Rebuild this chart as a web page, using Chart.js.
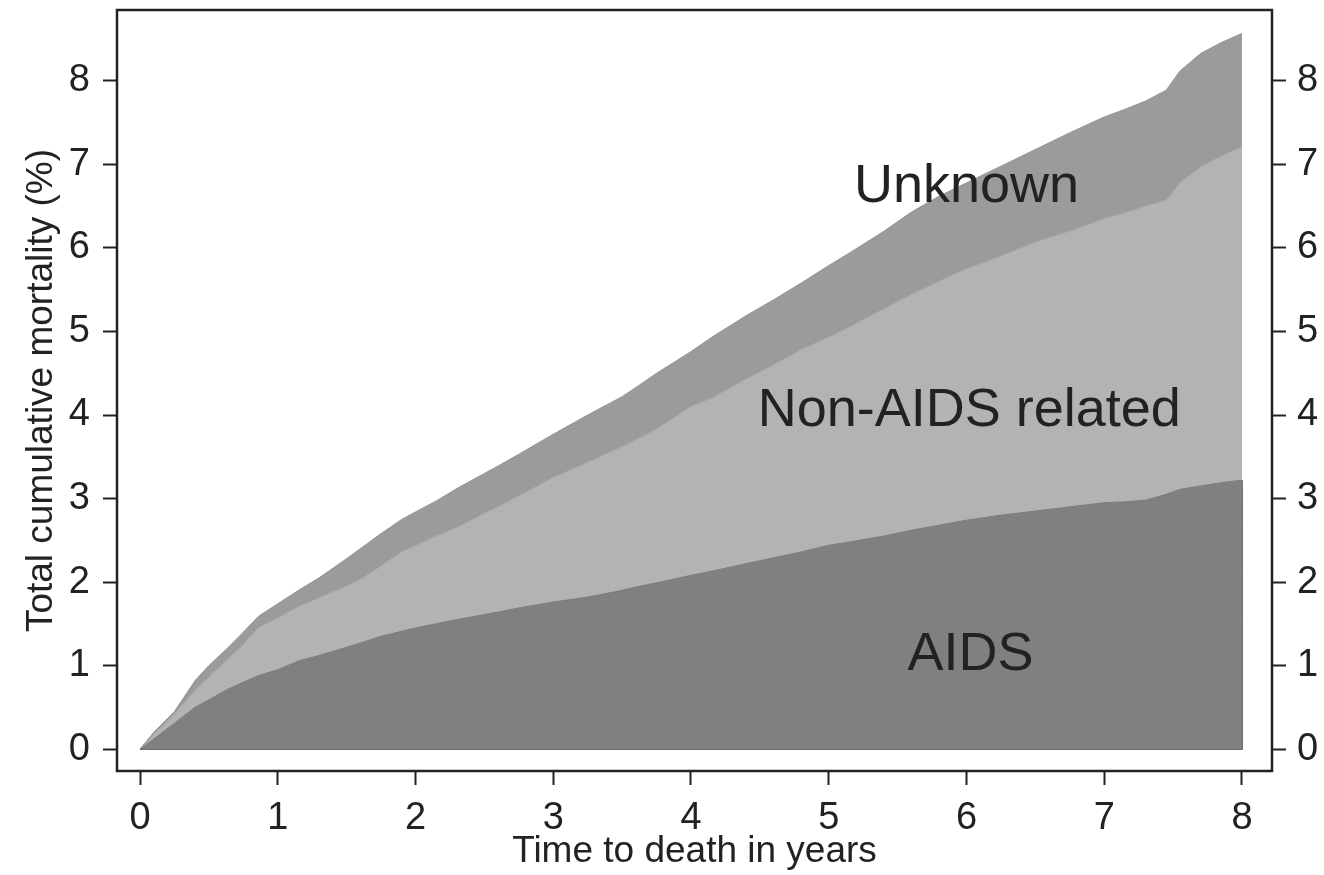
<!DOCTYPE html>
<html>
<head>
<meta charset="utf-8">
<script src="https://cdn.jsdelivr.net/npm/chart.js@4.4.0/dist/chart.umd.min.js"></script>
<style>
  body { margin: 0; background: #fff; }
  canvas { display: block; }
</style>
</head>
<body>
<canvas id="chart" width="1324" height="875"></canvas>
<script>
// time in years, and the cumulative boundaries (%)
const times = [0, 0.1, 0.25, 0.4, 0.5, 0.63, 0.75, 0.86, 1.0, 1.16, 1.3, 1.5, 1.6, 1.75, 1.9, 2.0,
  2.15, 2.3, 2.5, 2.6, 2.75, 3.0, 3.25, 3.5, 3.6, 3.75, 4.0, 4.15, 4.4, 4.6, 4.8, 5.0,
  5.15, 5.4, 5.6, 5.8, 6.0, 6.25, 6.5, 6.75, 7.0, 7.15, 7.3, 7.45, 7.55, 7.7, 7.85, 8.0];

// top of the AIDS band
const aidsTop = [0, 0.12, 0.31, 0.5, 0.59, 0.71, 0.8, 0.88, 0.95, 1.06, 1.12, 1.22, 1.27, 1.35, 1.41, 1.45,
  1.5, 1.55, 1.61, 1.64, 1.69, 1.76, 1.82, 1.9, 1.94, 1.99, 2.08, 2.13, 2.22, 2.29, 2.36, 2.44,
  2.48, 2.55, 2.62, 2.68, 2.74, 2.8, 2.85, 2.9, 2.95, 2.96, 2.98, 3.05, 3.11, 3.15, 3.19, 3.22];

// top of the Non-AIDS related band (AIDS + non-AIDS)
const nonAidsTop = [0, 0.17, 0.42, 0.7, 0.86, 1.06, 1.25, 1.45, 1.57, 1.71, 1.81, 1.95, 2.03, 2.19, 2.36, 2.43,
  2.55, 2.65, 2.82, 2.9, 3.03, 3.25, 3.43, 3.62, 3.7, 3.83, 4.1, 4.2, 4.43, 4.6, 4.78, 4.93,
  5.05, 5.27, 5.44, 5.6, 5.75, 5.9, 6.07, 6.2, 6.35, 6.42, 6.5, 6.57, 6.78, 6.97, 7.1, 7.21];

// top of the Unknown band = total cumulative mortality
const totalTop = [0, 0.2, 0.45, 0.82, 1.0, 1.2, 1.4, 1.59, 1.74, 1.91, 2.05, 2.28, 2.4, 2.58, 2.75, 2.84,
  2.97, 3.12, 3.3, 3.39, 3.53, 3.77, 4.0, 4.22, 4.33, 4.5, 4.76, 4.93, 5.19, 5.38, 5.58, 5.79,
  5.94, 6.2, 6.43, 6.62, 6.78, 6.98, 7.18, 7.38, 7.57, 7.66, 7.76, 7.89, 8.12, 8.33, 8.46, 8.57];

const tickValues = [0, 1, 2, 3, 4, 5, 6, 7, 8];

const bandLabels = [
  { text: 'Unknown', x: 6.0, y: 6.73 },
  { text: 'Non-AIDS related', x: 6.02, y: 4.05 },
  { text: 'AIDS', x: 6.03, y: 1.13 }
];

const FONT = '"Liberation Sans", Arial, sans-serif';
const INK = '#222';

function pts(ys) {
  return times.map((t, i) => ({ x: t, y: ys[i] }));
}

const last = aidsTop[aidsTop.length - 1];

// frame round the plot area and the text inside the bands
const framePlugin = {
  id: 'frame',
  afterDraw(chart) {
    const { ctx, chartArea: a, scales } = chart;
    ctx.save();
    ctx.fillStyle = INK;
    ctx.font = '54px ' + FONT;
    ctx.textAlign = 'center';
    ctx.textBaseline = 'middle';
    bandLabels.forEach(l => {
      ctx.fillText(l.text, scales.x.getPixelForValue(l.x), scales.y.getPixelForValue(l.y));
    });
    ctx.strokeStyle = INK;
    ctx.lineWidth = 2.5;
    ctx.strokeRect(a.left, a.top, a.right - a.left, a.bottom - a.top);
    ctx.restore();
  }
};

function intTicks(scale) {
  scale.ticks = tickValues.map(v => ({ value: v }));
}

const gridOpts = {
  display: true,
  drawOnChartArea: false,
  drawTicks: true,
  tickLength: 14,
  tickWidth: 2,
  tickColor: INK
};

new Chart(document.getElementById('chart'), {
  type: 'line',
  data: {
    datasets: [
      {
        label: 'AIDS',
        data: pts(aidsTop),
        fill: 'origin',
        backgroundColor: '#808080',
        borderColor: '#7a7a7a',
        borderWidth: 1,
        pointRadius: 0,
        tension: 0
      },
      {
        label: 'Non-AIDS related',
        data: pts(nonAidsTop),
        fill: '-1',
        backgroundColor: '#b3b3b3',
        borderColor: '#a8a8a8',
        borderWidth: 1,
        pointRadius: 0,
        tension: 0
      },
      {
        label: 'Unknown',
        data: pts(totalTop),
        fill: '-1',
        backgroundColor: '#9b9b9b',
        borderColor: '#959595',
        borderWidth: 1,
        pointRadius: 0,
        tension: 0
      },
      {
        label: 'edge',
        data: [{ x: 0, y: 0 }, { x: 8, y: 0 }, { x: 8, y: last }],
        fill: false,
        borderColor: '#3c3c3c',
        borderWidth: 1.5,
        pointRadius: 0
      }
    ]
  },
  options: {
    responsive: false,
    animation: false,
    devicePixelRatio: 1,
    layout: { padding: { top: 10, left: 0, right: 0, bottom: 0 } },
    plugins: {
      legend: { display: false },
      tooltip: { enabled: false }
    },
    scales: {
      x: {
        type: 'linear',
        min: -0.167,
        max: 8.218,
        afterBuildTicks: intTicks,
        afterFit: s => { s.height = 104; s.paddingLeft = 0; s.paddingRight = 0; },
        border: { display: false },
        grid: gridOpts,
        ticks: { color: INK, font: { family: FONT, size: 38 }, padding: 11 },
        title: {
          display: true,
          text: 'Time to death in years',
          color: INK,
          font: { family: FONT, size: 37 },
          padding: { top: 0, bottom: 1 }
        }
      },
      y: {
        type: 'linear',
        position: 'left',
        min: -0.263,
        max: 8.85,
        afterBuildTicks: intTicks,
        afterFit: s => { s.width = 117; s.paddingTop = 0; s.paddingBottom = 0; },
        border: { display: false },
        grid: gridOpts,
        ticks: { color: INK, font: { family: FONT, size: 38 }, padding: 13 },
        title: {
          display: true,
          text: 'Total cumulative mortality (%)',
          color: INK,
          font: { family: FONT, size: 37 },
          padding: { top: 20, bottom: 0 }
        }
      },
      y2: {
        type: 'linear',
        position: 'right',
        min: -0.263,
        max: 8.85,
        afterBuildTicks: intTicks,
        afterFit: s => { s.width = 52; s.paddingTop = 0; s.paddingBottom = 0; },
        border: { display: false },
        grid: gridOpts,
        ticks: { color: INK, font: { family: FONT, size: 38 }, padding: 11 }
      }
    }
  },
  plugins: [framePlugin]
});
</script>
</body>
</html>
